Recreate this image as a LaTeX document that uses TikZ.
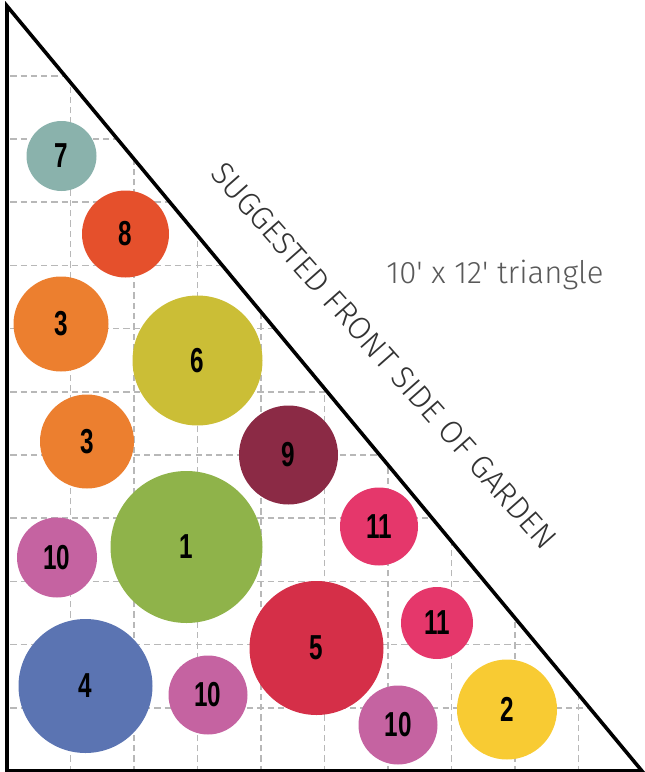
\documentclass[tikz,border=0pt]{standalone}
\usepackage{fontspec}
\usepackage{xcolor}
\usepackage{tikz}
\newfontfamily\numfont[FakeStretch=0.7]{Liberation Sans}
\newfontfamily\lightfont{Fira Sans Light}
\definecolor{sage}{HTML}{8AB2AC}
\definecolor{vermilion}{HTML}{E5502C}
\definecolor{pumpkin}{HTML}{EC7F2F}
\definecolor{olive}{HTML}{CBBE36}
\definecolor{wine}{HTML}{8B2A45}
\definecolor{raspberry}{HTML}{E5376B}
\definecolor{orchid}{HTML}{C563A1}
\definecolor{leaf}{HTML}{8FB34A}
\definecolor{crimson}{HTML}{D52F48}
\definecolor{slate}{HTML}{5B74B2}
\definecolor{sun}{HTML}{F8CB33}
\tikzset{
    plant/.style={
        circle,
        inner sep=0pt,
        text=black,
        font=\numfont\bfseries\fontsize{15.5}{15.5}\selectfont
    },
    dia/.style={minimum size=#1*0.447pt},
    gridline/.style={
        draw=black!28,
        line width=0.7pt,
        dash pattern=on 2.8pt off 1.8pt
    }
}

\begin{document}
\begin{tikzpicture}[x=0.447pt, y=-0.447pt]
    \useasboundingbox (0,0) rectangle (644,772);
    % square-foot grid inside the bed
    \begin{scope}
        \clip (7,6) -- (7,771) -- (642,771) -- cycle;
        \foreach \i in {1,...,9}
            \draw [gridline] ({7+63.5*\i},772) -- ({7+63.5*\i},0);
        \foreach \j in {1,...,11}
            \draw [gridline] (0,{771-63.2*\j}) -- (644,{771-63.2*\j});
    \end{scope}
    \draw [line width=1.6pt] (7,6) -- (7,771) -- (642,771) -- cycle;

    % plants
    \node (p7) [plant, dia=70, fill=sage] at (61.5,156) {7};
    \node (p8) [plant, dia=87, fill=vermilion] at (125.5,234) {8};
    \node (p3a) [plant, dia=95, fill=pumpkin] at (61,324) {3};
    \node (p6) [plant, dia=130, fill=olive] at (197.5,360.5) {6};
    \node (p3b) [plant, dia=94, fill=pumpkin] at (87,441.5) {3};
    \node (p9) [plant, dia=99, fill=wine] at (288.5,455) {9};
    \node (p11a) [plant, dia=78, fill=raspberry] at (379,526.5) {11};
    \node (p10a) [plant, dia=80, fill=orchid] at (57,557.5) {10};
    \node (p1) [plant, dia=152, fill=leaf] at (186.5,547) {1};
    \node (p5) [plant, dia=134, fill=crimson] at (316.5,648) {5};
    \node (p11b) [plant, dia=72, fill=raspberry] at (437,623) {11};
    \node (p4) [plant, dia=134, fill=slate] at (85.5,686) {4};
    \node (p10b) [plant, dia=79, fill=orchid] at (208,695) {10};
    \node (p10c) [plant, dia=79, fill=orchid] at (398,725) {10};
    \node (p2) [plant, dia=100, fill=sun] at (507,709.5) {2};

    % labels
    \node (front) [rotate=-48.5, text=black!80, font=\lightfont\fontsize{14.2}{14.2}\selectfont]
        at (384,356) {SUGGESTED FRONT SIDE OF GARDEN};
    \node (size) [anchor=base, text=black!65, font=\lightfont\fontsize{13.9}{13.9}\selectfont]
        at (495,283) {10\textquotesingle\ x 12\textquotesingle\ triangle};
\end{tikzpicture}
\end{document}
